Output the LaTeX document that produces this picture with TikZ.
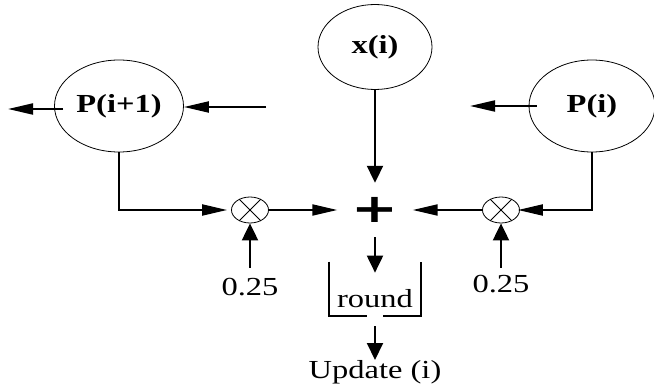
\documentclass[tikz,border=0pt]{standalone}
\usepackage{fontspec}
\setmainfont{Liberation Serif}
\newfontfamily\symfont{DejaVu Sans}
\usepackage{graphicx}
\usetikzlibrary{shapes.geometric, arrows.meta, positioning}

\newcommand{\wide}[1]{\scalebox{1.25}[1]{#1}}

\tikzstyle{block} = [ellipse, draw=black, line width=0.8pt, inner sep=0pt, font=\fontsize{26}{26}\selectfont\bfseries]
\tikzstyle{mult} = [ellipse, draw=black, line width=0.8pt, minimum width=37pt, minimum height=26pt, inner sep=0pt]
\tikzstyle{lbl} = [inner sep=0pt, font=\fontsize{26}{26}\selectfont]
\tikzstyle{harrow} = [line width=2pt, -{Triangle[length=25pt,width=11pt]}]
\tikzstyle{varrow} = [line width=2pt, -{Triangle[length=17pt,width=16pt]}]
\tikzstyle{brk} = [line width=2pt]

\begin{document}
\begin{tikzpicture}[x=1pt, y=1pt, node distance=100pt]
\useasboundingbox (0,0) rectangle (654,-385);

% Top row
\node (xi) [block, minimum width=114pt, minimum height=85pt] at (375,-47) {\wide{x(i)}};
\node (pi1) [block, minimum width=129pt, minimum height=92pt] at (119,-106) {\wide{P(i+1)}};
\node (pi) [block, minimum width=126pt, minimum height=92pt] at (592,-106) {\wide{P(i)}};

% Adder and multipliers
\node (plus) [below of=xi, yshift=-63pt, minimum width=75pt, minimum height=54pt, inner sep=0pt] {\scalebox{1.4}[1]{\fontsize{40}{40}\symfont\bfseries +}};
\node (mulL) [mult, left of=plus, xshift=-25pt] {};
\node (mulR) [mult, right of=plus, xshift=26pt] {};
\draw [line width=0.8pt] (mulL.45) -- (mulL.225) (mulL.135) -- (mulL.315);
\draw [line width=0.8pt] (mulR.45) -- (mulR.225) (mulR.135) -- (mulR.315);

% Weights, rounding and output
\node (wl) [lbl, below of=mulL, yshift=23pt] {\wide{0.25}};
\node (wr) [lbl, below of=mulR, yshift=26pt] {\wide{0.25}};
\node (rnd) [lbl, below of=plus, yshift=11pt, inner xsep=8pt, inner ysep=8pt] {\wide{round}};
\node (upd) [lbl, below of=rnd, yshift=27pt] {\wide{Update (i)}};
\draw [brk] ([yshift=20pt]rnd.north west) -- (rnd.south west) -- ([xshift=-8pt]rnd.south);
\draw [brk] ([xshift=8pt]rnd.south) -- (rnd.south east) -- ([yshift=20pt]rnd.north east);

% Free ends
\coordinate (outL) at (8,-109);
\coordinate (inL) at (266,-107);
\coordinate (outR) at (470,-106);

% Data flows
\draw [harrow] (pi1.west |- outL) ++(9pt,0) -- (outL);
\draw [harrow] (inL) -- (pi1.east |- inL);
\draw [harrow] (pi.west) ++(8pt,0) -- (outR);
\draw [harrow, shorten >=4pt] (pi1.south) |- (mulL.west);
\draw [harrow, shorten >=-2pt] (pi.south) |- (mulR.east);
\draw [harrow] (mulL.east) -- (plus.west);
\draw [harrow] (mulR.west) -- (plus.east);
\draw [varrow] (xi.south) -- (plus.north);
\draw [varrow, shorten <=10pt] (wl.north) -- (mulL.south);
\draw [varrow, shorten <=7pt] (wr.north) -- (mulR.south);
\draw [varrow, shorten >=9pt] (plus.south) -- (rnd.north);
\draw [varrow, shorten <=10pt] (rnd.south) -- (upd.north);

\end{tikzpicture}
\end{document}
